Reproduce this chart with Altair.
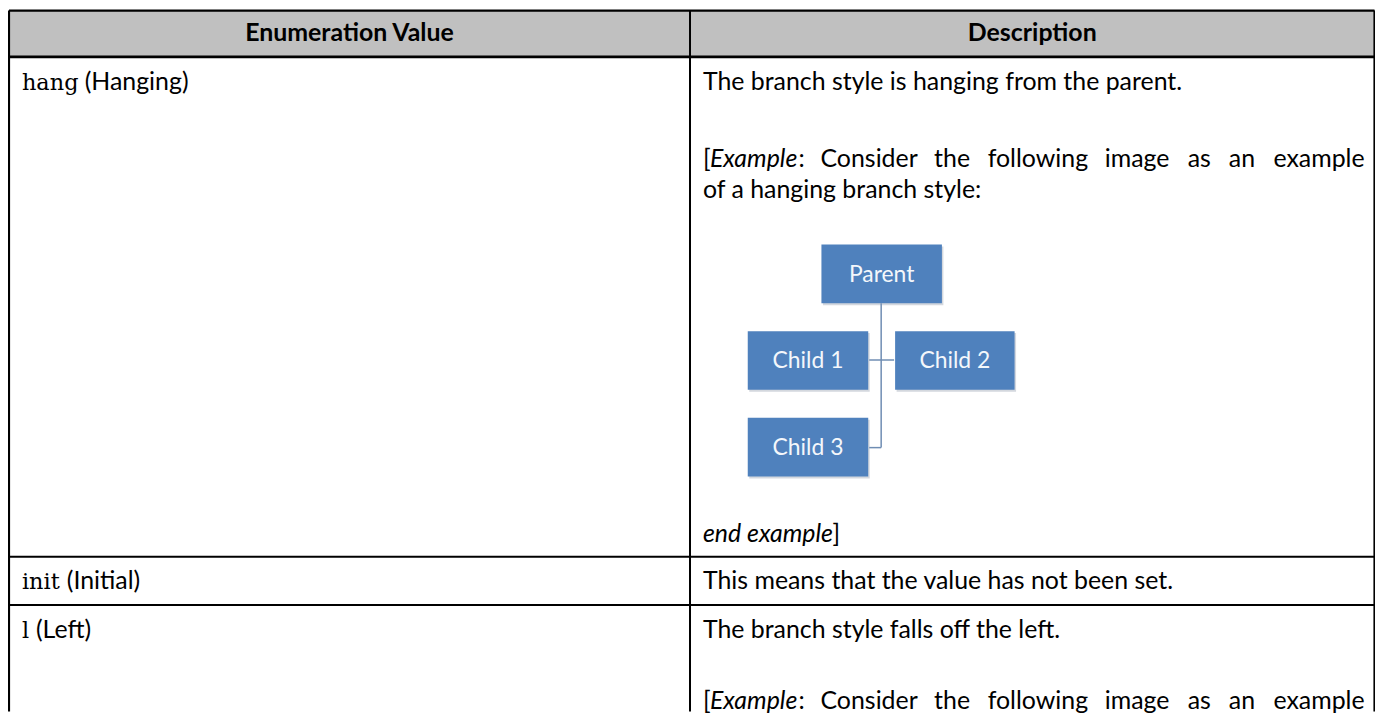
import altair as alt
import pandas as pd

# ---------------- content ----------------
header_labels = ["Enumeration Value", "Description"]
enum_codes = ["hang", "init", "l"]
enum_names = ["(Hanging)", "(Initial)", "(Left)"]
descriptions = [
    "The branch style is hanging from the parent.",
    "This means that the value has not been set.",
    "The branch style falls off the left.",
]
example_lead = ["[", "Example", ":"]
example_words = ["Consider", "the", "following", "image", "as", "an", "example"]
example_cont = ["of a hanging branch style:"]
example_close = ["end example", "]"]
node_labels = ["Parent", "Child 1", "Child 2", "Child 3"]

# ---------------- layout (page pixels) ----------------
W, H = 1373, 705
X0, Y0 = 8, 8
col_edges = [9, 693, 1380.5]
row_edges = [9, 55.5, 557.5, 606]
col_text_x = [22, 706]
row_base = [89, 590, 639]
name_dx = [63, 45, 14]

SANS = "Lato"
SERIF = "DejaVu Serif"
FS = 25

# approximate advance widths (in em) of the example words, used to spread the
# justified line between the left text edge and the right cell margin
word_em = [3.84, 1.43, 3.98, 2.61, 0.93, 1.07, 3.68]
lead_x = [706, 713, 802]
line_start, line_end = 806, 1371
text_w = sum(word_em) * FS
gap = (line_end - line_start - text_w) / len(word_em)
wx = []
cur = line_start + gap
for e in word_em:
    wx.append(cur)
    cur += e * FS + gap

xs = alt.Scale(domain=[X0, X0 + W], nice=False, zero=False)
ys = alt.Scale(domain=[Y0, Y0 + H], nice=False, zero=False, reverse=True)


def X(f):
    return alt.X(f, type="quantitative", scale=xs, axis=None)


def Y(f):
    return alt.Y(f, type="quantitative", scale=ys, axis=None)


def text_layer(df, **kw):
    base = dict(font=SANS, fontSize=FS, align="left", baseline="alphabetic", color="black")
    base.update(kw)
    return alt.Chart(df).mark_text(**base).encode(x=X("x"), y=Y("y"), text="t:N")


# header background
hdr_bg = pd.DataFrame({"x": [col_edges[0]], "x2": [col_edges[2]],
                       "y": [row_edges[0]], "y2": [row_edges[1]]})
hdr_layer = alt.Chart(hdr_bg).mark_rect(color="#C0C0C0").encode(
    x=X("x"), x2="x2", y=Y("y"), y2="y2")

# borders
rules = pd.DataFrame({
    "x":  [col_edges[0], col_edges[0], col_edges[2], col_edges[1], col_edges[0], col_edges[0], col_edges[0]],
    "x2": [col_edges[2], col_edges[0], col_edges[2], col_edges[1], col_edges[2], col_edges[2], col_edges[2]],
    "y":  [row_edges[0], row_edges[0], row_edges[0], row_edges[0], row_edges[1], row_edges[2], row_edges[3]],
    "y2": [row_edges[0], Y0 + H, Y0 + H, Y0 + H, row_edges[1], row_edges[2], row_edges[3]],
    "sw": [2.2, 2.2, 2.2, 2.0, 2.6, 2.0, 2.0],
})
rule_layer = alt.Chart(rules).mark_rule(color="black").encode(
    x=X("x"), x2="x2", y=Y("y"), y2="y2",
    strokeWidth=alt.StrokeWidth("sw:Q", scale=None))

# header text
hdr_txt = pd.DataFrame({"t": header_labels,
                        "x": [(col_edges[0] + col_edges[1]) / 2, (col_edges[1] + col_edges[2]) / 2],
                        "y": [40, 40]})
hdr_text = text_layer(hdr_txt, fontWeight="bold", align="center", fontSize=25)

# enumeration codes (serif) and names (sans)
codes_df = pd.DataFrame({"t": enum_codes, "x": [col_text_x[0]] * 3, "y": row_base})
codes_layer = text_layer(codes_df, font=SERIF, fontSize=22.5)
names_df = pd.DataFrame({"t": enum_names, "x": [col_text_x[0] + d for d in name_dx], "y": row_base})
names_layer = text_layer(names_df)

# description paragraphs
ex_y1 = 166
ex_y3 = 711
cont_y = 197
end_y = 543
normal_t = descriptions + [example_lead[0], example_lead[2]] * 2 + example_words * 2 + \
    [example_cont[0], example_close[1]]
normal_x = [col_text_x[1]] * 3 + [lead_x[0], lead_x[2]] * 2 + wx * 2 + [706, 836]
normal_y = row_base + [ex_y1, ex_y1, ex_y3, ex_y3] + [ex_y1] * 7 + [ex_y3] * 7 + [cont_y, end_y]
norm_df = pd.DataFrame({"t": normal_t, "x": normal_x, "y": normal_y})
norm_layer = text_layer(norm_df)

ital_df = pd.DataFrame({"t": [example_lead[1], example_lead[1], example_close[0]],
                        "x": [lead_x[1], lead_x[1], 706], "y": [ex_y1, ex_y3, end_y]})
ital_layer = text_layer(ital_df, fontStyle="italic")

# org chart diagram
box_x1 = [825, 751, 899, 751]
box_x2 = [946, 872, 1019, 872]
box_y1 = [244, 331, 331, 418]
box_y2 = [303, 390, 390, 477]
boxes = pd.DataFrame({"t": node_labels, "x": box_x1, "x2": box_x2, "y": box_y1, "y2": box_y2,
                      "cx": [(a + b) / 2 for a, b in zip(box_x1, box_x2)],
                      "cy": [(a + b) / 2 + 1 for a, b in zip(box_y1, box_y2)]})
shadow_df = boxes.assign(x=boxes.x + 1.5, x2=boxes.x2 + 1.5, y=boxes.y + 2, y2=boxes.y2 + 2)
shadow_layer = alt.Chart(shadow_df).mark_rect(color="#C9CED6", opacity=0.8).encode(
    x=X("x"), x2="x2", y=Y("y"), y2="y2")
box_layer = alt.Chart(boxes).mark_rect(color="#4F81BD").encode(
    x=X("x"), x2="x2", y=Y("y"), y2="y2")
box_text = alt.Chart(boxes).mark_text(font=SANS, fontSize=23, color="#F4F7FB", align="center",
                                      baseline="middle").encode(
    x=X("cx"), y=Y("cy"), text="t:N")

conn = pd.DataFrame({"x": [885, 873, 873], "x2": [885, 898, 885],
                     "y": [303, 360, 448], "y2": [448, 360, 448]})
conn_layer = alt.Chart(conn).mark_rule(color="#6F8DB3", strokeWidth=1.5).encode(
    x=X("x"), x2="x2", y=Y("y"), y2="y2")

chart = alt.layer(
    hdr_layer, shadow_layer, box_layer, conn_layer, box_text, rule_layer, hdr_text,
    codes_layer, names_layer, norm_layer, ital_layer,
).properties(
    width=W, height=H, padding=0, autosize=alt.AutoSizeParams(type="none"), background="white"
).configure_view(strokeWidth=0)

chart.save("out.html", embed_options={"renderer": "svg", "actions": False})
